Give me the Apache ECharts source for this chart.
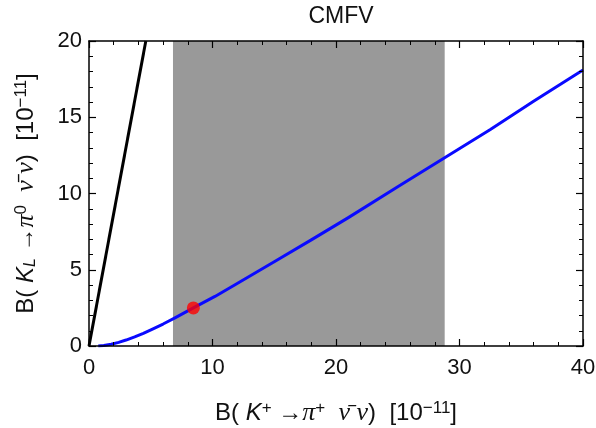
<!DOCTYPE html>
<html>
<head>
<meta charset="utf-8">
<script src="https://cdn.jsdelivr.net/npm/echarts@6/dist/echarts.min.js"></script>
<style>html,body{margin:0;padding:0;background:#fff}#c{width:596px;height:428px}</style>
</head>
<body>
<div id="c"></div>
<script>
const titleText = 'CMFV';
const xTicks = [0, 10, 20, 30, 40];
const yTicks = [0, 5, 10, 15, 20];
const bandRange = [6.8, 28.8];
const blackX = [0, 4.6];
const blackY = [0, 20];
const blueX = [0.75, 1.2, 1.8, 2.4, 3.0, 3.7, 4.4, 5.1, 6.0, 7.0, 8.45, 10.2, 12, 15, 18, 21, 25, 28.7, 32.5, 36, 40];
const blueY = [0, 0.027, 0.11, 0.24, 0.39, 0.6, 0.83, 1.09, 1.44, 1.86, 2.5, 3.25, 4.1, 5.52, 6.96, 8.42, 10.44, 12.3, 14.2, 16.05, 18.1];
const smPoint = [8.45, 2.5];

const SANS = "'Liberation Sans', Arial, sans-serif";
const SERIF = "'Liberation Serif', 'Times New Roman', serif";
const nameRich = {
  n: {fontFamily: SANS, fontSize: 24, color: '#111'},
  k: {fontFamily: SANS, fontSize: 24, fontStyle: 'italic', color: '#111'},
  g: {fontFamily: SERIF, fontSize: 26, fontStyle: 'italic', color: '#111'},
  s: {fontFamily: SANS, fontSize: 17, color: '#111', verticalAlign: 'top'},
  b: {fontFamily: SANS, fontSize: 16, fontStyle: 'italic', color: '#111', verticalAlign: 'bottom'}
};
const xName = '{n|B( }{k|K}{s|+}{n| →}{g|π}{s|+}{n|  }{g|ν̄ ν}{n|)  [10}{s|−11}{n|]}';
const yName = '{n|B( }{k|K}{b|L}{n| →}{g|π}{s|0}{n|  }{g|ν̄ ν}{n|)  [10}{s|−11}{n|]}';

const chart = echarts.init(document.getElementById('c'), null, {renderer: 'canvas'});
const axisCommon = {
  type: 'value',
  z: 10,
  axisLine: {show: true, onZero: false, lineStyle: {color: '#000', width: 1.5}},
  axisTick: {show: true, inside: true, length: 7, lineStyle: {color: '#000', width: 1.2}},
  minorTick: {show: true, splitNumber: 5, length: 4, lineStyle: {color: '#000', width: 1}},
  splitLine: {show: false},
  axisLabel: {fontFamily: SANS, fontSize: 22, color: '#111'}
};
chart.setOption({
  animation: false,
  backgroundColor: '#fff',
  title: {text: titleText, left: 336, textAlign: 'center', top: 0,
    textStyle: {fontFamily: SANS, fontSize: 23, fontWeight: 'normal', color: '#111'}},
  grid: {left: 89, right: 13, top: 41, bottom: 82, containLabel: false, outerBoundsMode: 'none'},
  xAxis: [
    Object.assign({}, axisCommon, {position: 'bottom', min: xTicks[0], max: xTicks[xTicks.length-1], interval: 10,
      name: xName, nameLocation: 'middle', nameGap: 54, nameTextStyle: {rich: nameRich},
      axisLabel: Object.assign({}, axisCommon.axisLabel, {margin: 11})}),
    Object.assign({}, axisCommon, {position: 'top', min: xTicks[0], max: xTicks[xTicks.length-1], interval: 10,
      axisLabel: {show: false}})
  ],
  yAxis: [
    Object.assign({}, axisCommon, {position: 'left', min: yTicks[0], max: yTicks[yTicks.length-1], interval: 5,
      name: yName, nameLocation: 'middle', nameGap: 50, nameRotate: 90, nameTextStyle: {rich: nameRich},
      axisLabel: Object.assign({}, axisCommon.axisLabel, {margin: 7})}),
    Object.assign({}, axisCommon, {position: 'right', min: yTicks[0], max: yTicks[yTicks.length-1], interval: 5,
      axisLabel: {show: false}})
  ],
  series: [
    {type: 'line', data: [], xAxisIndex: 0, yAxisIndex: 0, z: 1,
      markArea: {silent: true, itemStyle: {color: '#999999', opacity: 1},
        data: [[{xAxis: bandRange[0]}, {xAxis: bandRange[1]}]]}},
    {type: 'line', data: blackX.map((x, i) => [x, blackY[i]]), showSymbol: false, z: 3,
      lineStyle: {color: '#000', width: 3}},
    {type: 'line', data: blueX.map((x, i) => [x, blueY[i]]), showSymbol: false, smooth: false, z: 3,
      lineStyle: {color: '#0a0aff', width: 3, join: 'round'}},
    {type: 'scatter', data: [smPoint], symbolSize: 13, z: 4, itemStyle: {color: '#ff0000'}}
  ]
});
</script>
</body>
</html>
